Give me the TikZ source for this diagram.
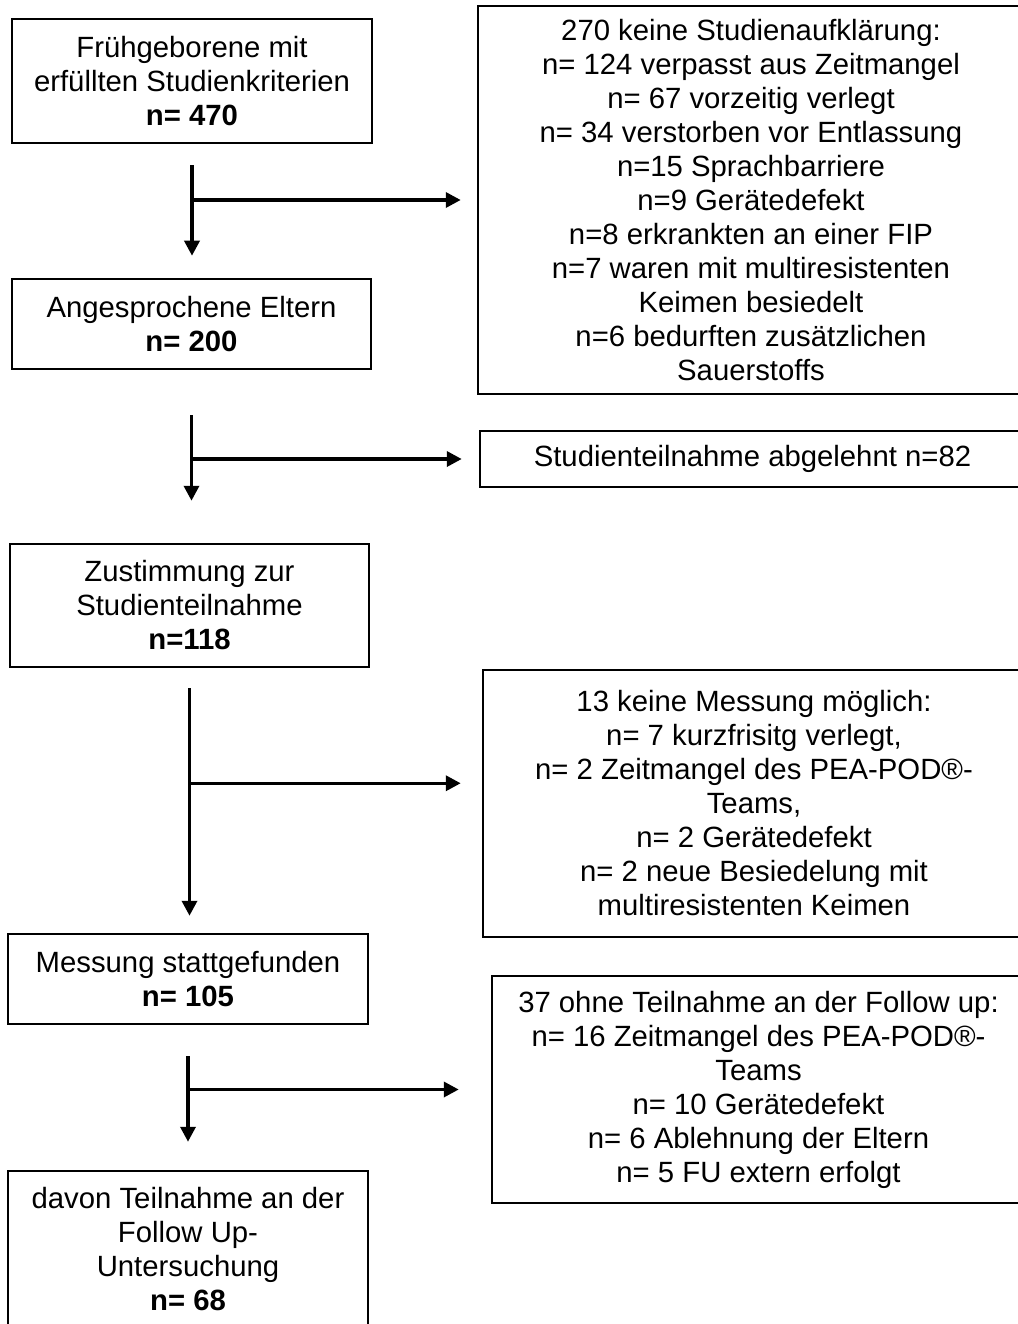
\documentclass[tikz,border=0pt]{standalone}
\usepackage{fontspec}
\setmainfont{Liberation Sans}
\usetikzlibrary{positioning,arrows.meta,calc}
\tikzset{
    x=1pt,
    y=-1pt,
    stage/.style = {
        draw,
        shape=rectangle,
        line width=2.5pt,
        align=center,
        inner sep=0pt,
        font=\fontsize{29.3}{34}\selectfont
    },
    exclusion/.style = {
        stage
    },
    flow/.style = {
        ->,
        line width=3.5pt
    },
    >={Triangle[length=15pt,width=15pt]},
}
\begin{document}
\begin{tikzpicture}
    \useasboundingbox (0,0) rectangle (1017,1324);

    % main path
    \node[stage, minimum width=360, minimum height=124] (crit) at (192,81) {Frühgeborene mit\\erfüllten Studienkriterien\\\textbf{n= 470}};
    \node[stage, minimum width=359, minimum height=90] (ange) at (191.5,324) {Angesprochene Eltern\\\textbf{n= 200}};
    \node[stage, minimum width=359, minimum height=123] (zust) at (189.5,605.5) {Zustimmung zur\\Studienteilnahme\\\textbf{n=118}};
    \node[stage, minimum width=360, minimum height=90] (mess) at (188,979) {Messung stattgefunden\\\textbf{n= 105}};
    \node[stage, minimum width=360, minimum height=157] (follow) at (188,1249.5) {davon Teilnahme an der\\Follow Up-\\Untersuchung\\\textbf{n= 68}};

    % exclusions
    \node[exclusion, minimum width=546, minimum height=388] (excl1) at (751,200) {270 keine Studienaufklärung:\\n= 124 verpasst aus Zeitmangel\\n= 67 vorzeitig verlegt\\n= 34 verstorben vor Entlassung\\n=15 Sprachbarriere\\n=9 Gerätedefekt\\n=8 erkrankten an einer FIP\\n=7 waren mit multiresistenten\\Keimen besiedelt\\n=6 bedurften zusätzlichen\\Sauerstoffs};
    \node[exclusion, minimum width=545, minimum height=56] (abgel) at (752.5,459) {Studienteilnahme abgelehnt n=82};
    \node[exclusion, minimum width=542, minimum height=267] (excl2) at (754,803.5) {13 keine Messung möglich:\\n= 7 kurzfrisitg verlegt,\\n= 2 Zeitmangel des PEA-POD®-\\Teams,\\n= 2 Gerätedefekt\\n= 2 neue Besiedelung mit\\multiresistenten Keimen};
    \node[exclusion, minimum width=533, minimum height=227] (excl3) at (758.5,1089.5) {37 ohne Teilnahme an der Follow up:\\n= 16 Zeitmangel des PEA-POD®-\\Teams\\n= 10 Gerätedefekt\\n= 6 Ablehnung der Eltern\\n= 5 FU extern erfolgt};

    \coordinate (split1) at (crit.south |- excl1.west);
    \coordinate (split2) at (ange.south |- abgel.west);
    \coordinate (split3) at ($(zust.south)+(0,115)$);
    \coordinate (split4) at (mess.south |- excl3.west);

    \draw[flow, shorten <=21pt, shorten >=22pt] (crit.south) -- (crit.south |- ange.north);
    \draw[flow, shorten <=45pt, shorten >=42pt] (ange.south) -- (ange.south |- zust.north);
    \draw[flow, shorten <=20pt, shorten >=17pt] (zust.south) -- (zust.south |- mess.north);
    \draw[flow, shorten <=31pt, shorten >=28pt] (mess.south) -- (mess.south |- follow.north);

    \draw[flow, shorten >=16pt] (split1) -- (excl1.west);
    \draw[flow, shorten >=17pt] (split2) -- (abgel.west);
    \draw[flow, shorten >=21pt] (split3) -- (split3 -| excl2.west);
    \draw[flow, shorten >=32pt] (split4) -- (excl3.west);
\end{tikzpicture}
\end{document}
